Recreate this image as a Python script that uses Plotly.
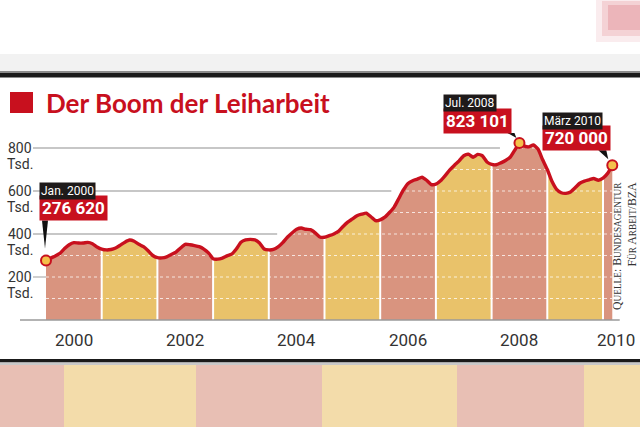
import plotly.graph_objects as go

# Leiharbeiter in Tsd., monatlich (Jan. 2000 bis März 2010)
w2000 = [276.62, 288, 298, 310, 332, 350, 360, 358, 358, 361, 355, 340]
w2001 = [330, 326, 328, 335, 348, 362, 372, 366, 352, 341, 322, 300]
w2002 = [290, 289, 294, 305, 316, 335, 352, 350, 346, 341, 330, 312]
w2003 = [285, 283, 288, 298, 306, 330, 362, 373, 375, 373, 358, 330]
w2004 = [326, 328, 340, 360, 385, 405, 422, 428, 422, 420, 405, 386]
w2005 = [385, 392, 400, 412, 435, 455, 470, 485, 492, 497, 480, 462]
w2006 = [466, 478, 500, 525, 565, 605, 635, 648, 655, 664, 650, 630]
w2007 = [632, 648, 672, 698, 720, 740, 764, 771, 757, 770, 764, 735]
w2008 = [724, 722, 731, 742, 757, 790, 823.101, 810, 805, 814, 795, 745]
w2009 = [700, 645, 608, 592, 589, 595, 615, 636, 646, 652, 658, 650]
w2010 = [660, 682, 720.0]

jahre = [2000, 2001, 2002, 2003, 2004, 2005, 2006, 2007, 2008, 2009, 2010]
jahreswerte = [w2000, w2001, w2002, w2003, w2004, w2005, w2006, w2007, w2008, w2009, w2010]

x_labels = ["2000", "2002", "2004", "2006", "2008", "2010"]
x_label_pos = [2000.5, 2002.5, 2004.5, 2006.5, 2008.5, 2010.23]
y_ticks = [200, 400, 600, 800]

hinweis_monat = [0, 102, 122]
hinweis_datum = ["Jan. 2000", "Jul. 2008", "März 2010"]
hinweis_wert = ["276 620", "823 101", "720 000"]

ROT = "#C8101E"
ROSA = "#D9947F"
GELB = "#E9C26A"
TEXT = "#333333"

# pixel geometry of the reference
PX_JAHR = 55.7
PX_TSD = 0.215
X0, Y0 = 46, 320
W, H = 640, 427


def px(x):
    return x / W


def py(y):
    return 1 - y / H


alle = [v for w in jahreswerte for v in w]
monate = [2000 + i / 12 for i in range(len(alle))]

fig = go.Figure()

# gelb/rosa Jahresflaechen
for k, (jahr, werte) in enumerate(zip(jahre, jahreswerte)):
    start = (jahr - 2000) * 12
    ende = min(start + 13, len(alle))
    fig.add_trace(go.Scatter(
        x=monate[start:ende], y=alle[start:ende],
        mode="lines", fill="tozeroy",
        fillcolor=ROSA if k % 2 == 0 else GELB,
        line=dict(width=0, color=ROSA), hoverinfo="skip", showlegend=False))

# weisse gepunktete Linien im Flaechenbereich
for lvl in range(100, 900, 100):
    fig.add_trace(go.Scatter(
        x=[monate[0], monate[-1]], y=[lvl, lvl], mode="lines",
        line=dict(color="rgba(255,255,255,0.75)", width=1, dash="dot"),
        hoverinfo="skip", showlegend=False))

# weisse Jahrestrenner
for jahr in jahre[1:]:
    i = (jahr - 2000) * 12
    fig.add_trace(go.Scatter(
        x=[monate[i], monate[i]], y=[0, alle[i]], mode="lines",
        line=dict(color="white", width=2), hoverinfo="skip", showlegend=False))

# graue Gitterlinien (enden dort, wo die Kurve sie erreicht)
grid_ende = {200: 2000.0, 400: 2004.15, 600: 2006.2, 800: 2008.15}
for lvl in y_ticks:
    fig.add_trace(go.Scatter(
        x=[2000 + (33 - X0) / PX_JAHR, grid_ende[lvl]], y=[lvl, lvl], mode="lines",
        line=dict(color="#B5B5B5", width=1.3), hoverinfo="skip", showlegend=False))

# Grundlinie
fig.add_trace(go.Scatter(
    x=[2000 + (20 - X0) / PX_JAHR, 2010.3], y=[0, 0], mode="lines",
    line=dict(color="#9A9A9A", width=1.5), hoverinfo="skip", showlegend=False))

# rote Kurve
fig.add_trace(go.Scatter(
    x=monate, y=alle, mode="lines",
    line=dict(color=ROT, width=3.4, shape="spline", smoothing=0.5),
    hoverinfo="skip", showlegend=False))

fig.add_trace(go.Scatter(
    x=[monate[i] for i in hinweis_monat], y=[alle[i] for i in hinweis_monat],
    mode="markers",
    marker=dict(size=10, color="#F4C04A", line=dict(color=ROT, width=2)),
    hoverinfo="skip", showlegend=False))

shapes = []
annotations = []

# Hinweisboxen
offsets = [(-7, 40, 61), (-76, 9, 31), (-70, 14, 35)]
keile = ["M -4,40 L 2,40 L -1,12 Z", "M -12,10 L -5,10 L -3,5 Z", "M -14,15 L -6,15 L -4,6 Z"]
for i, m in enumerate(hinweis_monat):
    xs, yr, yb = offsets[i]
    annotations.append(dict(
        x=monate[m], y=alle[m], xref="x", yref="y", xanchor="left", yanchor="bottom",
        xshift=xs, yshift=yr, showarrow=False, text="<b>%s</b>" % hinweis_wert[i],
        font=dict(family="Roboto", size=17, color="white"),
        bgcolor=ROT, borderpad=2))
    annotations.append(dict(
        x=monate[m], y=alle[m], xref="x", yref="y", xanchor="left", yanchor="bottom",
        xshift=xs, yshift=yb, showarrow=False, text=hinweis_datum[i],
        font=dict(family="Roboto", size=12, color="white"),
        bgcolor="#1E1A1A", borderpad=1))
    shapes.append(dict(
        type="path", xref="x", yref="y", xsizemode="pixel", ysizemode="pixel",
        xanchor=monate[m], yanchor=alle[m], path=keile[i],
        fillcolor="#111111", line=dict(width=0), layer="above"))

# y-Beschriftung
for lvl in y_ticks:
    annotations.append(dict(
        x=2000 + (20 - X0) / PX_JAHR, y=lvl, xref="x", yref="y", showarrow=False,
        text=str(lvl), font=dict(family="Roboto", size=14, color=TEXT),
        xanchor="center", yanchor="middle"))
    annotations.append(dict(
        x=2000 + (20 - X0) / PX_JAHR, y=lvl, xref="x", yref="y", showarrow=False,
        text="Tsd.", font=dict(family="Roboto", size=14, color=TEXT),
        xanchor="center", yanchor="middle", yshift=-16))

# x-Beschriftung
for lab, pos in zip(x_labels, x_label_pos):
    annotations.append(dict(
        x=pos, y=0, xref="x", yref="y", showarrow=False, text=lab,
        font=dict(family="Roboto", size=17, color=TEXT),
        xanchor="center", yanchor="top", yshift=-8))

# Titel
shapes.append(dict(type="rect", xref="paper", yref="paper",
                   x0=px(10), x1=px(33), y0=py(113), y1=py(92),
                   fillcolor=ROT, line=dict(width=0)))
annotations.append(dict(
    x=px(44), y=py(103), xref="paper", yref="paper", xanchor="left", yanchor="middle",
    showarrow=False, text="<b>Der Boom der Leiharbeit</b>",
    font=dict(family="Lato", size=26, color=ROT)))

# Quelle
klein = "<span style='font-size:9.3px'>%s</span>"
quelle = ("Q" + klein % "UELLE" + ": B" + klein % "UNDESAGENTUR" + "<br>" +
          "F" + klein % "ÜR" + " A" + klein % "RBEIT" + "/BZA")
annotations.append(dict(
    x=px(624), y=py(180), xref="paper", yref="paper", xanchor="center", yanchor="top",
    showarrow=False, text=quelle, textangle=-90, align="right",
    font=dict(family="Liberation Serif", size=11.8, color=TEXT)))

# Rahmen oben / unten (Seitenausschnitt)
shapes += [
    dict(type="rect", xref="paper", yref="paper", x0=0, x1=1, y0=py(72), y1=py(54),
         fillcolor="#F2F2F2", line=dict(width=0), layer="below"),
    dict(type="rect", xref="paper", yref="paper", x0=0, x1=1, y0=py(74), y1=py(71),
         fillcolor="#8A8A8A", line=dict(width=0)),
    dict(type="rect", xref="paper", yref="paper", x0=0, x1=1, y0=py(77.5), y1=py(73),
         fillcolor="#1A1A1A", line=dict(width=0)),
    dict(type="rect", xref="paper", yref="paper", x0=px(596), x1=1, y0=py(42), y1=1,
         fillcolor="rgba(230,150,160,0.18)", line=dict(width=0)),
    dict(type="rect", xref="paper", yref="paper", x0=px(602), x1=1, y0=py(36), y1=py(1),
         fillcolor="rgba(226,130,140,0.25)", line=dict(width=0)),
    dict(type="rect", xref="paper", yref="paper", x0=px(608), x1=1, y0=py(30), y1=py(5),
         fillcolor="rgba(220,115,125,0.3)", line=dict(width=0)),
    dict(type="rect", xref="paper", yref="paper", x0=0, x1=1, y0=py(362.5), y1=py(359),
         fillcolor="#1A1A1A", line=dict(width=0)),
    dict(type="rect", xref="paper", yref="paper", x0=0, x1=1, y0=py(365), y1=py(362.5),
         fillcolor="#C8C8C8", line=dict(width=0)),
]
baender = [(0, 64, "#E8BFB4"), (64, 196, "#F3DCAA"), (196, 322, "#E8BFB4"),
           (322, 457, "#F3DCAA"), (457, 584, "#E8BFB4"), (584, 640, "#F3DCAA")]
for a, b, c in baender:
    shapes.append(dict(type="rect", xref="paper", yref="paper", x0=px(a), x1=px(b),
                       y0=0, y1=py(365), fillcolor=c, line=dict(width=0)))

fig.update_layout(
    width=W, height=H,
    margin=dict(l=0, r=0, t=0, b=0),
    paper_bgcolor="white", plot_bgcolor="white",
    xaxis=dict(range=[2000 - X0 / PX_JAHR, 2000 + (W - X0) / PX_JAHR], visible=False,
               domain=[0, 1]),
    yaxis=dict(range=[-(H - Y0) / PX_TSD, Y0 / PX_TSD], visible=False, domain=[0, 1]),
    shapes=shapes, annotations=annotations,
    showlegend=False,
)

# body margin weg, damit die Grafik genau im Fenster sitzt
fig.write_html("out.html", config={"displayModeBar": False},
               post_script="document.body.style.margin='0';")
